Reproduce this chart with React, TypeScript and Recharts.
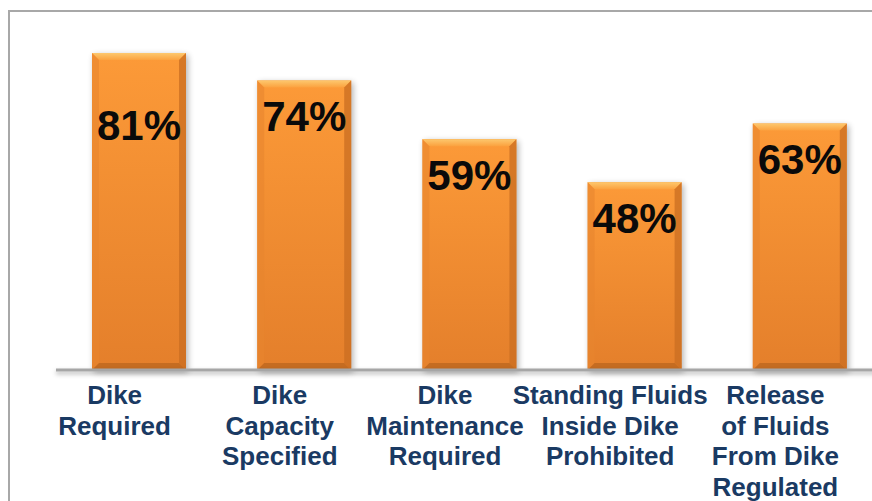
import { BarChart, Bar, XAxis, YAxis, LabelList } from "recharts";

const categories = [
  "Dike\nRequired",
  "Dike\nCapacity\nSpecified",
  "Dike\nMaintenance\nRequired",
  "Standing Fluids\nInside Dike\nProhibited",
  "Release\nof Fluids\nFrom Dike\nRegulated",
];
const percentages = [81, 74, 59, 48, 63];

const data = categories.map((name, i) => ({ name, value: percentages[i] }));

const FONT = '"Liberation Sans", Arial, sans-serif';

function BevelBar(props: any) {
  const { x, y, width: w, height: h } = props;
  const b = 7;
  return (
    <g>
      <defs>
        <linearGradient id="barBody" x1="0" y1="0" x2="0" y2="1">
          <stop offset="0%" stopColor="#fc9a38" />
          <stop offset="100%" stopColor="#e47f2b" />
        </linearGradient>
        <linearGradient id="barTop" x1="0" y1="0" x2="0" y2="1">
          <stop offset="0%" stopColor="#fdc86e" />
          <stop offset="100%" stopColor="#fba23f" />
        </linearGradient>
        <filter id="barShadow" x="-20%" y="-20%" width="140%" height="140%">
          <feGaussianBlur stdDeviation="3" />
        </filter>
      </defs>
      <rect x={x + 2} y={y + 2} width={w} height={h} fill="#000" opacity={0.3} filter="url(#barShadow)" />
      <rect x={x} y={y} width={w} height={h} fill="url(#barBody)" />
      <polygon
        points={`${x},${y} ${x + w},${y} ${x + w - b},${y + b} ${x + b},${y + b}`}
        fill="url(#barTop)"
      />
      <polygon
        points={`${x},${y} ${x + b},${y + b} ${x + b},${y + h - b} ${x},${y + h}`}
        fill="#e8852e"
        opacity={0.6}
      />
      <polygon
        points={`${x + w},${y} ${x + w},${y + h} ${x + w - b},${y + h - b} ${x + w - b},${y + b}`}
        fill="#c96d21"
        opacity={0.75}
      />
      <polygon
        points={`${x},${y + h} ${x + w},${y + h} ${x + w - b},${y + h - b} ${x + b},${y + h - b}`}
        fill="#bf6820"
        opacity={0.85}
      />
    </g>
  );
}

function ValueLabel(props: any) {
  const { x, y, width, value, index } = props;
  const drop = index === 0 ? 87 : 51;
  return (
    <text
      x={x + width / 2}
      y={y + drop}
      textAnchor="middle"
      fontFamily={FONT}
      fontWeight="bold"
      fontSize={42}
      fill="#0a0a0a"
    >
      {value}%
    </text>
  );
}

function CategoryTick(props: any) {
  const { x, y, payload } = props;
  const lines = String(payload.value).split("\n");
  return (
    <text
      x={x - 24}
      y={y + 34}
      textAnchor="middle"
      fontFamily={FONT}
      fontWeight="bold"
      fontSize={26}
      fill="#1a3a63"
    >
      {lines.map((line, i) => (
        <tspan key={i} x={x - 24} dy={i === 0 ? 0 : 30.5}>
          {line}
        </tspan>
      ))}
    </text>
  );
}

export default function App() {
  return (
    <div
      style={{
        position: "absolute",
        left: 0,
        top: 0,
        width: 872,
        height: 501,
        overflow: "hidden",
        background: "#fff",
      }}
    >
      <div
        style={{
          position: "absolute",
          left: 8,
          top: 10,
          width: 900,
          height: 600,
          border: "2px solid #a8a8a8",
          boxSizing: "border-box",
        }}
      />
      <div style={{ position: "absolute", left: 0, top: 0 }}>
        <BarChart
          width={890}
          height={501}
          data={data}
          margin={{ top: 10, right: 8, bottom: 31, left: 56 }}
        >
          <defs>
            <filter
              id="axisShadow"
              filterUnits="userSpaceOnUse"
              x="0"
              y="350"
              width="900"
              height="40"
            >
              <feDropShadow dx="0" dy="2.5" stdDeviation="2" floodColor="#000" floodOpacity="0.3" />
            </filter>
          </defs>
          <XAxis
            dataKey="name"
            height={100}
            tickLine={false}
            tickSize={0}
            tickMargin={0}
            interval={0}
            axisLine={{ stroke: "#a6a6a6", strokeWidth: 3, filter: "url(#axisShadow)" }}
            tick={<CategoryTick />}
          />
          <YAxis hide domain={[0, 92]} />
          <Bar dataKey="value" barSize={94} shape={<BevelBar />} isAnimationActive={false}>
            <LabelList dataKey="value" content={<ValueLabel />} />
          </Bar>
        </BarChart>
      </div>
    </div>
  );
}
